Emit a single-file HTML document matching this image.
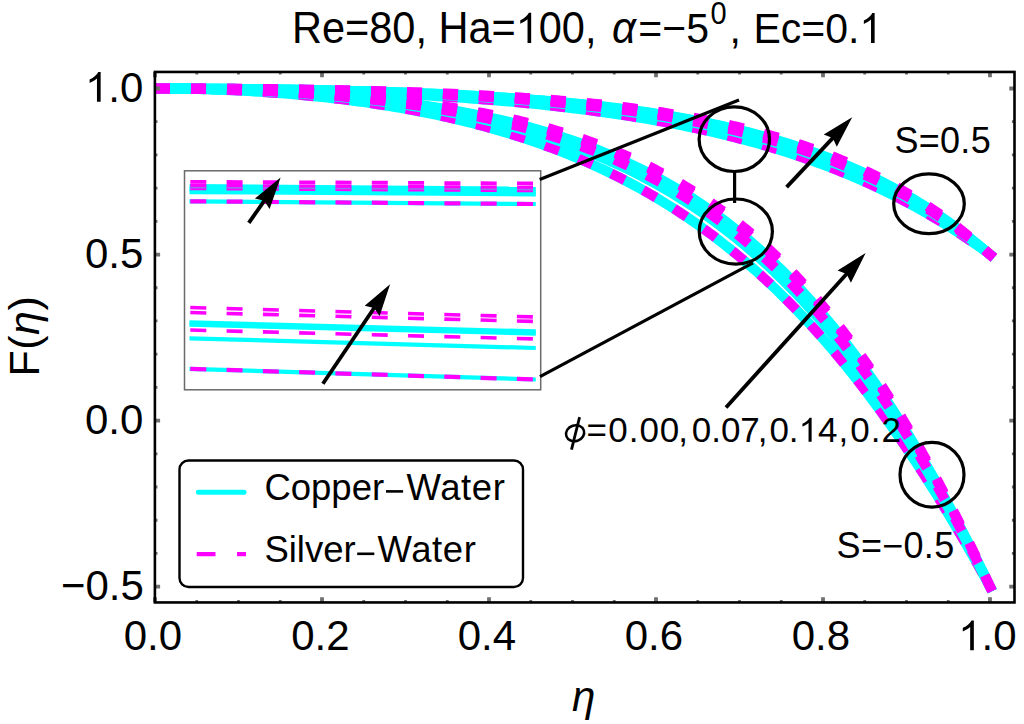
<!DOCTYPE html>
<html><head><meta charset="utf-8"><style>html,body{margin:0;padding:0;background:#fff;}svg{display:block;}</style></head>
<body><svg width="1024" height="724" viewBox="0 0 1024 724">
<rect width="1024" height="724" fill="#fff"/>
<defs><clipPath id="pc"><rect x="155" y="72" width="859" height="530"/></clipPath></defs><g clip-path="url(#pc)" fill="none" stroke-linejoin="round"><polyline points="155.00,88.50 160.22,88.50 165.44,88.51 170.66,88.52 175.88,88.54 181.09,88.56 186.31,88.58 191.53,88.61 196.75,88.65 201.97,88.69 207.19,88.73 212.41,88.78 217.62,88.83 222.84,88.89 228.06,88.95 233.28,89.02 238.50,89.09 243.72,89.17 248.94,89.25 254.16,89.34 259.38,89.43 264.59,89.53 269.81,89.63 275.03,89.74 280.25,89.86 285.47,89.97 290.69,90.10 295.91,90.23 301.12,90.36 306.34,90.50 311.56,90.65 316.78,90.80 322.00,90.96 327.22,91.13 332.44,91.30 337.66,91.47 342.88,91.65 348.09,91.84 353.31,92.04 358.53,92.24 363.75,92.45 368.97,92.67 374.19,92.89 379.41,93.12 384.62,93.36 389.84,93.60 395.06,93.85 400.28,94.11 405.50,94.38 410.72,94.65 415.94,94.94 421.16,95.23 426.38,95.53 431.59,95.84 436.81,96.16 442.03,96.48 447.25,96.82 452.47,97.16 457.69,97.52 462.91,97.88 468.12,98.25 473.34,98.64 478.56,99.03 483.78,99.43 489.00,99.85 494.22,100.28 499.44,100.71 504.66,101.16 509.88,101.62 515.09,102.10 520.31,102.58 525.53,103.08 530.75,103.59 535.97,104.11 541.19,104.65 546.41,105.20 551.62,105.76 556.84,106.34 562.06,106.93 567.28,107.54 572.50,108.17 577.72,108.80 582.94,109.46 588.16,110.13 593.38,110.82 598.59,111.52 603.81,112.24 609.03,112.98 614.25,113.74 619.47,114.52 624.69,115.31 629.91,116.13 635.12,116.96 640.34,117.81 645.56,118.69 650.78,119.59 656.00,120.50 661.22,121.44 666.44,122.41 671.66,123.39 676.88,124.40 682.09,125.44 687.31,126.49 692.53,127.58 697.75,128.69 702.97,129.82 708.19,130.98 713.41,132.17 718.62,133.39 723.84,134.64 729.06,135.91 734.28,137.22 739.50,138.56 744.72,139.92 749.94,141.32 755.16,142.76 760.38,144.22 765.59,145.72 770.81,147.26 776.03,148.83 781.25,150.43 786.47,152.07 791.69,153.75 796.91,155.47 802.12,157.23 807.34,159.03 812.56,160.87 817.78,162.75 823.00,164.68 828.22,166.64 833.44,168.66 838.66,170.71 843.88,172.82 849.09,174.97 854.31,177.17 859.53,179.42 864.75,181.71 869.97,184.06 875.19,186.46 880.41,188.92 885.62,191.42 890.84,193.99 896.06,196.61 901.28,199.28 906.50,202.01 911.72,204.81 916.94,207.66 922.16,210.57 927.38,213.55 932.59,216.59 937.81,219.70 943.03,222.87 948.25,226.10 953.47,229.41 958.69,232.79 963.91,236.23 969.13,239.75 974.34,243.34 979.56,247.00 984.78,250.74 990.00,254.55" stroke="#00FFFF" stroke-width="10" stroke-linecap="square"/><polyline points="155.00,88.50 160.22,88.50 165.44,88.51 170.66,88.52 175.88,88.54 181.09,88.56 186.31,88.58 191.53,88.61 196.75,88.65 201.97,88.69 207.19,88.73 212.41,88.78 217.62,88.83 222.84,88.89 228.06,88.95 233.28,89.02 238.50,89.09 243.72,89.17 248.94,89.25 254.16,89.34 259.38,89.43 264.59,89.53 269.81,89.63 275.03,89.74 280.25,89.86 285.47,89.97 290.69,90.10 295.91,90.23 301.12,90.36 306.34,90.50 311.56,90.65 316.78,90.80 322.00,90.96 327.22,91.13 332.44,91.30 337.66,91.47 342.88,91.65 348.09,91.84 353.31,92.04 358.53,92.24 363.75,92.45 368.97,92.67 374.19,92.89 379.41,93.12 384.62,93.36 389.84,93.60 395.06,93.85 400.28,94.11 405.50,94.38 410.72,94.65 415.94,94.94 421.16,95.23 426.38,95.53 431.59,95.84 436.81,96.16 442.03,96.48 447.25,96.82 452.47,97.16 457.69,97.52 462.91,97.88 468.12,98.25 473.34,98.64 478.56,99.03 483.78,99.43 489.00,99.85 494.22,100.28 499.44,100.71 504.66,101.16 509.88,101.62 515.09,102.10 520.31,102.58 525.53,103.08 530.75,103.59 535.97,104.11 541.19,104.65 546.41,105.20 551.62,105.76 556.84,106.34 562.06,106.93 567.28,107.54 572.50,108.17 577.72,108.80 582.94,109.46 588.16,110.13 593.38,110.82 598.59,111.52 603.81,112.24 609.03,112.98 614.25,113.74 619.47,114.52 624.69,115.31 629.91,116.13 635.12,116.96 640.34,117.81 645.56,118.69 650.78,119.59 656.00,120.50 661.22,121.44 666.44,122.41 671.66,123.39 676.88,124.40 682.09,125.44 687.31,126.49 692.53,127.58 697.75,128.69 702.97,129.82 708.19,130.98 713.41,132.17 718.62,133.39 723.84,134.64 729.06,135.91 734.28,137.22 739.50,138.56 744.72,139.92 749.94,141.32 755.16,142.76 760.38,144.22 765.59,145.72 770.81,147.26 776.03,148.83 781.25,150.43 786.47,152.07 791.69,153.75 796.91,155.47 802.12,157.23 807.34,159.03 812.56,160.87 817.78,162.75 823.00,164.68 828.22,166.64 833.44,168.66 838.66,170.71 843.88,172.82 849.09,174.97 854.31,177.17 859.53,179.42 864.75,181.71 869.97,184.06 875.19,186.46 880.41,188.92 885.62,191.42 890.84,193.99 896.06,196.61 901.28,199.28 906.50,202.01 911.72,204.81 916.94,207.66 922.16,210.57 927.38,213.55 932.59,216.59 937.81,219.70 943.03,222.87 948.25,226.10 953.47,229.41 958.69,232.79 963.91,236.23 969.13,239.75 974.34,243.34 979.56,247.00 984.78,250.74 990.00,254.55" stroke="#FF00FF" stroke-width="10" stroke-linecap="square" stroke-dasharray="5 31" stroke-dashoffset="-5"/><polyline points="155.00,88.50 160.22,88.50 165.44,88.51 170.66,88.52 175.88,88.53 181.09,88.54 186.31,88.56 191.53,88.59 196.75,88.61 201.97,88.64 207.19,88.68 212.41,88.71 217.62,88.75 222.84,88.80 228.06,88.85 233.28,88.90 238.50,88.96 243.72,89.02 248.94,89.08 254.16,89.15 259.38,89.22 264.59,89.29 269.81,89.37 275.03,89.46 280.25,89.55 285.47,89.64 290.69,89.74 295.91,89.84 301.12,89.94 306.34,90.05 311.56,90.17 316.78,90.29 322.00,90.41 327.22,90.54 332.44,90.68 337.66,90.81 342.88,90.96 348.09,91.11 353.31,91.26 358.53,91.43 363.75,91.59 368.97,91.76 374.19,91.94 379.41,92.13 384.62,92.32 389.84,92.51 395.06,92.72 400.28,92.93 405.50,93.14 410.72,93.37 415.94,93.60 421.16,93.83 426.38,94.08 431.59,94.33 436.81,94.59 442.03,94.86 447.25,95.14 452.47,95.42 457.69,95.72 462.91,96.02 468.12,96.33 473.34,96.65 478.56,96.98 483.78,97.32 489.00,97.67 494.22,98.03 499.44,98.40 504.66,98.78 509.88,99.17 515.09,99.57 520.31,99.98 525.53,100.41 530.75,100.85 535.97,101.30 541.19,101.76 546.41,102.24 551.62,102.73 556.84,103.23 562.06,103.75 567.28,104.28 572.50,104.83 577.72,105.39 582.94,105.97 588.16,106.56 593.38,107.17 598.59,107.80 603.81,108.44 609.03,109.10 614.25,109.78 619.47,110.48 624.69,111.20 629.91,111.94 635.12,112.70 640.34,113.47 645.56,114.27 650.78,115.09 656.00,115.94 661.22,116.80 666.44,117.69 671.66,118.61 676.88,119.55 682.09,120.51 687.31,121.50 692.53,122.52 697.75,123.56 702.97,124.63 708.19,125.73 713.41,126.86 718.62,128.02 723.84,129.21 729.06,130.43 734.28,131.69 739.50,132.97 744.72,134.30 749.94,135.65 755.16,137.05 760.38,138.48 765.59,139.94 770.81,141.45 776.03,142.99 781.25,144.58 786.47,146.20 791.69,147.87 796.91,149.58 802.12,151.34 807.34,153.14 812.56,154.99 817.78,156.89 823.00,158.83 828.22,160.82 833.44,162.87 838.66,164.97 843.88,167.12 849.09,169.32 854.31,171.59 859.53,173.91 864.75,176.28 869.97,178.72 875.19,181.22 880.41,183.78 885.62,186.40 890.84,189.09 896.06,191.85 901.28,194.67 906.50,197.57 911.72,200.53 916.94,203.57 922.16,206.68 927.38,209.87 932.59,213.13 937.81,216.47 943.03,219.89 948.25,223.40 953.47,226.98 958.69,230.65 963.91,234.41 969.13,238.26 974.34,242.19 979.56,246.22 984.78,250.34 990.00,254.55" stroke="#00FFFF" stroke-width="10" stroke-linecap="square"/><polyline points="155.00,88.50 160.22,88.50 165.44,88.51 170.66,88.51 175.88,88.52 181.09,88.54 186.31,88.56 191.53,88.58 196.75,88.60 201.97,88.63 207.19,88.66 212.41,88.69 217.62,88.72 222.84,88.76 228.06,88.81 233.28,88.85 238.50,88.90 243.72,88.95 248.94,89.01 254.16,89.07 259.38,89.13 264.59,89.20 269.81,89.27 275.03,89.35 280.25,89.42 285.47,89.51 290.69,89.59 295.91,89.68 301.12,89.77 306.34,89.87 311.56,89.97 316.78,90.08 322.00,90.19 327.22,90.31 332.44,90.43 337.66,90.55 342.88,90.68 348.09,90.81 353.31,90.95 358.53,91.10 363.75,91.25 368.97,91.40 374.19,91.56 379.41,91.73 384.62,91.90 389.84,92.07 395.06,92.26 400.28,92.45 405.50,92.64 410.72,92.84 415.94,93.05 421.16,93.27 426.38,93.49 431.59,93.72 436.81,93.96 442.03,94.20 447.25,94.45 452.47,94.71 457.69,94.98 462.91,95.26 468.12,95.54 473.34,95.83 478.56,96.14 483.78,96.45 489.00,96.77 494.22,97.10 499.44,97.44 504.66,97.79 509.88,98.15 515.09,98.53 520.31,98.91 525.53,99.30 530.75,99.71 535.97,100.13 541.19,100.56 546.41,101.01 551.62,101.46 556.84,101.93 562.06,102.42 567.28,102.92 572.50,103.43 577.72,103.96 582.94,104.50 588.16,105.06 593.38,105.63 598.59,106.23 603.81,106.84 609.03,107.46 614.25,108.11 619.47,108.77 624.69,109.45 629.91,110.16 635.12,110.88 640.34,111.62 645.56,112.39 650.78,113.17 656.00,113.98 661.22,114.81 666.44,115.67 671.66,116.55 676.88,117.45 682.09,118.39 687.31,119.34 692.53,120.33 697.75,121.34 702.97,122.38 708.19,123.45 713.41,124.55 718.62,125.68 723.84,126.84 729.06,128.04 734.28,129.26 739.50,130.53 744.72,131.82 749.94,133.16 755.16,134.53 760.38,135.94 765.59,137.39 770.81,138.87 776.03,140.40 781.25,141.98 786.47,143.59 791.69,145.25 796.91,146.95 802.12,148.70 807.34,150.50 812.56,152.35 817.78,154.25 823.00,156.20 828.22,158.20 833.44,160.26 838.66,162.37 843.88,164.54 849.09,166.76 854.31,169.05 859.53,171.40 864.75,173.81 869.97,176.28 875.19,178.82 880.41,181.43 885.62,184.10 890.84,186.84 896.06,189.66 901.28,192.55 906.50,195.51 911.72,198.55 916.94,201.67 922.16,204.87 927.38,208.15 932.59,211.52 937.81,214.97 943.03,218.50 948.25,222.13 953.47,225.85 958.69,229.65 963.91,233.56 969.13,237.56 974.34,241.65 979.56,245.85 984.78,250.15 990.00,254.55" stroke="#00FFFF" stroke-width="10" stroke-linecap="square"/><polyline points="155.00,88.50 160.22,88.50 165.44,88.51 170.66,88.51 175.88,88.52 181.09,88.54 186.31,88.55 191.53,88.57 196.75,88.60 201.97,88.62 207.19,88.65 212.41,88.68 217.62,88.72 222.84,88.76 228.06,88.80 233.28,88.84 238.50,88.89 243.72,88.94 248.94,89.00 254.16,89.06 259.38,89.12 264.59,89.18 269.81,89.25 275.03,89.32 280.25,89.40 285.47,89.48 290.69,89.56 295.91,89.65 301.12,89.74 306.34,89.84 311.56,89.94 316.78,90.04 322.00,90.15 327.22,90.26 332.44,90.38 337.66,90.50 342.88,90.63 348.09,90.76 353.31,90.90 358.53,91.04 363.75,91.18 368.97,91.33 374.19,91.49 379.41,91.65 384.62,91.82 389.84,91.99 395.06,92.17 400.28,92.36 405.50,92.55 410.72,92.75 415.94,92.95 421.16,93.16 426.38,93.38 431.59,93.61 436.81,93.84 442.03,94.08 447.25,94.32 452.47,94.58 457.69,94.84 462.91,95.11 468.12,95.39 473.34,95.68 478.56,95.98 483.78,96.29 489.00,96.60 494.22,96.93 499.44,97.26 504.66,97.61 509.88,97.96 515.09,98.33 520.31,98.71 525.53,99.10 530.75,99.50 535.97,99.91 541.19,100.34 546.41,100.77 551.62,101.23 556.84,101.69 562.06,102.17 567.28,102.66 572.50,103.17 577.72,103.69 582.94,104.23 588.16,104.78 593.38,105.35 598.59,105.93 603.81,106.53 609.03,107.16 614.25,107.79 619.47,108.45 624.69,109.13 629.91,109.82 635.12,110.54 640.34,111.27 645.56,112.03 650.78,112.81 656.00,113.61 661.22,114.44 666.44,115.29 671.66,116.16 676.88,117.06 682.09,117.98 687.31,118.93 692.53,119.91 697.75,120.92 702.97,121.95 708.19,123.02 713.41,124.11 718.62,125.23 723.84,126.39 729.06,127.58 734.28,128.80 739.50,130.06 744.72,131.35 749.94,132.68 755.16,134.05 760.38,135.46 765.59,136.90 770.81,138.38 776.03,139.91 781.25,141.48 786.47,143.09 791.69,144.75 796.91,146.45 802.12,148.20 807.34,150.00 812.56,151.85 817.78,153.75 823.00,155.70 828.22,157.70 833.44,159.76 838.66,161.87 843.88,164.04 849.09,166.27 854.31,168.56 859.53,170.92 864.75,173.33 869.97,175.81 875.19,178.36 880.41,180.97 885.62,183.66 890.84,186.41 896.06,189.24 901.28,192.14 906.50,195.12 911.72,198.17 916.94,201.31 922.16,204.52 927.38,207.82 932.59,211.21 937.81,214.68 943.03,218.24 948.25,221.88 953.47,225.63 958.69,229.46 963.91,233.39 969.13,237.42 974.34,241.55 979.56,245.78 984.78,250.11 990.00,254.55" stroke="#00FFFF" stroke-width="10" stroke-linecap="square"/><polyline points="155.00,88.50 160.22,88.50 165.44,88.51 170.66,88.51 175.88,88.53 181.09,88.54 186.31,88.56 191.53,88.58 196.75,88.60 201.97,88.63 207.19,88.66 212.41,88.70 217.62,88.74 222.84,88.78 228.06,88.82 233.28,88.87 238.50,88.92 243.72,88.98 248.94,89.04 254.16,89.10 259.38,89.16 264.59,89.23 269.81,89.31 275.03,89.39 280.25,89.47 285.47,89.55 290.69,89.64 295.91,89.74 301.12,89.83 306.34,89.94 311.56,90.04 316.78,90.15 322.00,90.27 327.22,90.39 332.44,90.52 337.66,90.65 342.88,90.78 348.09,90.92 353.31,91.06 358.53,91.21 363.75,91.37 368.97,91.53 374.19,91.70 379.41,91.87 384.62,92.05 389.84,92.23 395.06,92.42 400.28,92.62 405.50,92.82 410.72,93.03 415.94,93.25 421.16,93.47 426.38,93.70 431.59,93.94 436.81,94.18 442.03,94.44 447.25,94.70 452.47,94.97 457.69,95.24 462.91,95.53 468.12,95.82 473.34,96.13 478.56,96.44 483.78,96.76 489.00,97.09 494.22,97.43 499.44,97.78 504.66,98.15 509.88,98.52 515.09,98.90 520.31,99.30 525.53,99.70 530.75,100.12 535.97,100.55 541.19,100.99 546.41,101.45 551.62,101.92 556.84,102.40 562.06,102.90 567.28,103.41 572.50,103.93 577.72,104.47 582.94,105.03 588.16,105.60 593.38,106.19 598.59,106.79 603.81,107.41 609.03,108.05 614.25,108.71 619.47,109.39 624.69,110.08 629.91,110.80 635.12,111.53 640.34,112.29 645.56,113.07 650.78,113.87 656.00,114.69 661.22,115.53 666.44,116.40 671.66,117.29 676.88,118.21 682.09,119.15 687.31,120.12 692.53,121.12 697.75,122.14 702.97,123.19 708.19,124.28 713.41,125.39 718.62,126.53 723.84,127.70 729.06,128.90 734.28,130.14 739.50,131.41 744.72,132.72 749.94,134.06 755.16,135.44 760.38,136.86 765.59,138.31 770.81,139.81 776.03,141.34 781.25,142.92 786.47,144.54 791.69,146.20 796.91,147.91 802.12,149.66 807.34,151.46 812.56,153.31 817.78,155.21 823.00,157.16 828.22,159.16 833.44,161.21 838.66,163.32 843.88,165.48 849.09,167.70 854.31,169.98 859.53,172.31 864.75,174.71 869.97,177.17 875.19,179.70 880.41,182.29 885.62,184.94 890.84,187.67 896.06,190.46 901.28,193.33 906.50,196.26 911.72,199.28 916.94,202.37 922.16,205.53 927.38,208.78 932.59,212.11 937.81,215.52 943.03,219.01 948.25,222.59 953.47,226.26 958.69,230.02 963.91,233.87 969.13,237.81 974.34,241.85 979.56,245.98 984.78,250.22 990.00,254.55" stroke="#FF00FF" stroke-width="10" stroke-linecap="square" stroke-dasharray="5 31" stroke-dashoffset="-5"/><polyline points="155.00,88.50 160.22,88.50 165.44,88.51 170.66,88.51 175.88,88.52 181.09,88.53 186.31,88.55 191.53,88.57 196.75,88.59 201.97,88.61 207.19,88.64 212.41,88.67 217.62,88.70 222.84,88.73 228.06,88.77 233.28,88.81 238.50,88.85 243.72,88.90 248.94,88.95 254.16,89.00 259.38,89.06 264.59,89.12 269.81,89.18 275.03,89.24 280.25,89.31 285.47,89.39 290.69,89.46 295.91,89.54 301.12,89.62 306.34,89.71 311.56,89.80 316.78,89.90 322.00,89.99 327.22,90.10 332.44,90.20 337.66,90.31 342.88,90.43 348.09,90.55 353.31,90.67 358.53,90.80 363.75,90.94 368.97,91.07 374.19,91.22 379.41,91.37 384.62,91.52 389.84,91.68 395.06,91.84 400.28,92.01 405.50,92.19 410.72,92.37 415.94,92.56 421.16,92.76 426.38,92.96 431.59,93.17 436.81,93.38 442.03,93.60 447.25,93.83 452.47,94.07 457.69,94.31 462.91,94.56 468.12,94.82 473.34,95.09 478.56,95.37 483.78,95.66 489.00,95.95 494.22,96.26 499.44,96.57 504.66,96.89 509.88,97.23 515.09,97.57 520.31,97.93 525.53,98.29 530.75,98.67 535.97,99.06 541.19,99.46 546.41,99.87 551.62,100.30 556.84,100.74 562.06,101.19 567.28,101.66 572.50,102.14 577.72,102.63 582.94,103.15 588.16,103.67 593.38,104.21 598.59,104.77 603.81,105.35 609.03,105.94 614.25,106.55 619.47,107.18 624.69,107.83 629.91,108.50 635.12,109.19 640.34,109.90 645.56,110.63 650.78,111.38 656.00,112.15 661.22,112.95 666.44,113.77 671.66,114.62 676.88,115.49 682.09,116.39 687.31,117.31 692.53,118.26 697.75,119.24 702.97,120.25 708.19,121.29 713.41,122.36 718.62,123.46 723.84,124.60 729.06,125.76 734.28,126.96 739.50,128.20 744.72,129.47 749.94,130.78 755.16,132.13 760.38,133.52 765.59,134.94 770.81,136.41 776.03,137.93 781.25,139.48 786.47,141.08 791.69,142.73 796.91,144.42 802.12,146.17 807.34,147.96 812.56,149.81 817.78,151.70 823.00,153.65 828.22,155.66 833.44,157.73 838.66,159.85 843.88,162.03 849.09,164.27 854.31,166.58 859.53,168.95 864.75,171.39 869.97,173.90 875.19,176.47 880.41,179.12 885.62,181.84 890.84,184.64 896.06,187.51 901.28,190.46 906.50,193.49 911.72,196.60 916.94,199.80 922.16,203.09 927.38,206.46 932.59,209.92 937.81,213.48 943.03,217.13 948.25,220.87 953.47,224.71 958.69,228.66 963.91,232.70 969.13,236.86 974.34,241.11 979.56,245.48 984.78,249.96 990.00,254.55" stroke="#FF00FF" stroke-width="10" stroke-linecap="square" stroke-dasharray="5 31" stroke-dashoffset="-5"/><polyline points="155.00,88.50 160.22,88.50 165.44,88.51 170.66,88.51 175.88,88.52 181.09,88.53 186.31,88.55 191.53,88.56 196.75,88.58 201.97,88.60 207.19,88.63 212.41,88.66 217.62,88.69 222.84,88.72 228.06,88.76 233.28,88.79 238.50,88.84 243.72,88.88 248.94,88.93 254.16,88.98 259.38,89.03 264.59,89.09 269.81,89.15 275.03,89.21 280.25,89.27 285.47,89.34 290.69,89.42 295.91,89.49 301.12,89.57 306.34,89.65 311.56,89.74 316.78,89.83 322.00,89.93 327.22,90.02 332.44,90.13 337.66,90.23 342.88,90.34 348.09,90.46 353.31,90.58 358.53,90.70 363.75,90.83 368.97,90.96 374.19,91.10 379.41,91.24 384.62,91.39 389.84,91.54 395.06,91.70 400.28,91.86 405.50,92.03 410.72,92.21 415.94,92.39 421.16,92.58 426.38,92.77 431.59,92.97 436.81,93.18 442.03,93.39 447.25,93.61 452.47,93.84 457.69,94.08 462.91,94.32 468.12,94.57 473.34,94.83 478.56,95.10 483.78,95.38 489.00,95.66 494.22,95.96 499.44,96.26 504.66,96.57 509.88,96.90 515.09,97.23 520.31,97.58 525.53,97.93 530.75,98.30 535.97,98.68 541.19,99.07 546.41,99.47 551.62,99.88 556.84,100.31 562.06,100.75 567.28,101.21 572.50,101.68 577.72,102.16 582.94,102.66 588.16,103.17 593.38,103.71 598.59,104.25 603.81,104.82 609.03,105.40 614.25,105.99 619.47,106.61 624.69,107.25 629.91,107.90 635.12,108.58 640.34,109.27 645.56,109.99 650.78,110.73 656.00,111.49 661.22,112.28 666.44,113.09 671.66,113.92 676.88,114.78 682.09,115.67 687.31,116.58 692.53,117.52 697.75,118.48 702.97,119.48 708.19,120.51 713.41,121.57 718.62,122.66 723.84,123.78 729.06,124.93 734.28,126.13 739.50,127.35 744.72,128.61 749.94,129.91 755.16,131.25 760.38,132.63 765.59,134.05 770.81,135.51 776.03,137.02 781.25,138.57 786.47,140.16 791.69,141.81 796.91,143.50 802.12,145.24 807.34,147.03 812.56,148.87 817.78,150.77 823.00,152.72 828.22,154.73 833.44,156.79 838.66,158.92 843.88,161.10 849.09,163.35 854.31,165.67 859.53,168.05 864.75,170.50 869.97,173.02 875.19,175.60 880.41,178.27 885.62,181.00 890.84,183.82 896.06,186.71 901.28,189.68 906.50,192.74 911.72,195.88 916.94,199.11 922.16,202.42 927.38,205.83 932.59,209.33 937.81,212.92 943.03,216.61 948.25,220.40 953.47,224.29 958.69,228.29 963.91,232.39 969.13,236.59 974.34,240.91 979.56,245.34 984.78,249.89 990.00,254.55" stroke="#FF00FF" stroke-width="10" stroke-linecap="square" stroke-dasharray="5 31" stroke-dashoffset="-5"/><polyline points="155.00,88.50 160.22,88.51 165.44,88.53 170.66,88.57 175.88,88.63 181.09,88.70 186.31,88.79 191.53,88.89 196.75,89.01 201.97,89.14 207.19,89.30 212.41,89.46 217.62,89.65 222.84,89.85 228.06,90.07 233.28,90.30 238.50,90.55 243.72,90.82 248.94,91.11 254.16,91.41 259.38,91.73 264.59,92.07 269.81,92.42 275.03,92.80 280.25,93.19 285.47,93.60 290.69,94.03 295.91,94.48 301.12,94.94 306.34,95.43 311.56,95.94 316.78,96.47 322.00,97.01 327.22,97.58 332.44,98.17 337.66,98.78 342.88,99.41 348.09,100.07 353.31,100.74 358.53,101.44 363.75,102.16 368.97,102.91 374.19,103.68 379.41,104.47 384.62,105.29 389.84,106.14 395.06,107.01 400.28,107.90 405.50,108.82 410.72,109.77 415.94,110.75 421.16,111.76 426.38,112.79 431.59,113.85 436.81,114.95 442.03,116.07 447.25,117.23 452.47,118.41 457.69,119.63 462.91,120.88 468.12,122.17 473.34,123.49 478.56,124.84 483.78,126.23 489.00,127.66 494.22,129.13 499.44,130.63 504.66,132.17 509.88,133.75 515.09,135.37 520.31,137.03 525.53,138.73 530.75,140.47 535.97,142.26 541.19,144.09 546.41,145.97 551.62,147.89 556.84,149.87 562.06,151.88 567.28,153.95 572.50,156.07 577.72,158.24 582.94,160.46 588.16,162.73 593.38,165.06 598.59,167.44 603.81,169.88 609.03,172.38 614.25,174.93 619.47,177.54 624.69,180.22 629.91,182.95 635.12,185.75 640.34,188.61 645.56,191.54 650.78,194.53 656.00,197.59 661.22,200.72 666.44,203.92 671.66,207.19 676.88,210.53 682.09,213.95 687.31,217.44 692.53,221.00 697.75,224.65 702.97,228.37 708.19,232.17 713.41,236.06 718.62,240.03 723.84,244.08 729.06,248.22 734.28,252.44 739.50,256.75 744.72,261.15 749.94,265.64 755.16,270.22 760.38,274.90 765.59,279.67 770.81,284.53 776.03,289.50 781.25,294.56 786.47,299.72 791.69,304.98 796.91,310.34 802.12,315.80 807.34,321.37 812.56,327.04 817.78,332.82 823.00,338.71 828.22,344.70 833.44,350.81 838.66,357.02 843.88,363.34 849.09,369.78 854.31,376.33 859.53,382.99 864.75,389.76 869.97,396.65 875.19,403.65 880.41,410.77 885.62,418.00 890.84,425.35 896.06,432.82 901.28,440.40 906.50,448.10 911.72,455.91 916.94,463.84 922.16,471.89 927.38,480.05 932.59,488.33 937.81,496.72 943.03,505.22 948.25,513.83 953.47,522.56 958.69,531.40 963.91,540.34 969.13,549.40 974.34,558.56 979.56,567.82 984.78,577.18 990.00,586.65" stroke="#00FFFF" stroke-width="10" stroke-linecap="square"/><polyline points="155.00,88.50 160.22,88.51 165.44,88.53 170.66,88.57 175.88,88.63 181.09,88.70 186.31,88.79 191.53,88.89 196.75,89.01 201.97,89.14 207.19,89.30 212.41,89.46 217.62,89.65 222.84,89.85 228.06,90.07 233.28,90.30 238.50,90.55 243.72,90.82 248.94,91.11 254.16,91.41 259.38,91.73 264.59,92.07 269.81,92.42 275.03,92.80 280.25,93.19 285.47,93.60 290.69,94.03 295.91,94.48 301.12,94.94 306.34,95.43 311.56,95.94 316.78,96.47 322.00,97.01 327.22,97.58 332.44,98.17 337.66,98.78 342.88,99.41 348.09,100.07 353.31,100.74 358.53,101.44 363.75,102.16 368.97,102.91 374.19,103.68 379.41,104.47 384.62,105.29 389.84,106.14 395.06,107.01 400.28,107.90 405.50,108.82 410.72,109.77 415.94,110.75 421.16,111.76 426.38,112.79 431.59,113.85 436.81,114.95 442.03,116.07 447.25,117.23 452.47,118.41 457.69,119.63 462.91,120.88 468.12,122.17 473.34,123.49 478.56,124.84 483.78,126.23 489.00,127.66 494.22,129.13 499.44,130.63 504.66,132.17 509.88,133.75 515.09,135.37 520.31,137.03 525.53,138.73 530.75,140.47 535.97,142.26 541.19,144.09 546.41,145.97 551.62,147.89 556.84,149.87 562.06,151.88 567.28,153.95 572.50,156.07 577.72,158.24 582.94,160.46 588.16,162.73 593.38,165.06 598.59,167.44 603.81,169.88 609.03,172.38 614.25,174.93 619.47,177.54 624.69,180.22 629.91,182.95 635.12,185.75 640.34,188.61 645.56,191.54 650.78,194.53 656.00,197.59 661.22,200.72 666.44,203.92 671.66,207.19 676.88,210.53 682.09,213.95 687.31,217.44 692.53,221.00 697.75,224.65 702.97,228.37 708.19,232.17 713.41,236.06 718.62,240.03 723.84,244.08 729.06,248.22 734.28,252.44 739.50,256.75 744.72,261.15 749.94,265.64 755.16,270.22 760.38,274.90 765.59,279.67 770.81,284.53 776.03,289.50 781.25,294.56 786.47,299.72 791.69,304.98 796.91,310.34 802.12,315.80 807.34,321.37 812.56,327.04 817.78,332.82 823.00,338.71 828.22,344.70 833.44,350.81 838.66,357.02 843.88,363.34 849.09,369.78 854.31,376.33 859.53,382.99 864.75,389.76 869.97,396.65 875.19,403.65 880.41,410.77 885.62,418.00 890.84,425.35 896.06,432.82 901.28,440.40 906.50,448.10 911.72,455.91 916.94,463.84 922.16,471.89 927.38,480.05 932.59,488.33 937.81,496.72 943.03,505.22 948.25,513.83 953.47,522.56 958.69,531.40 963.91,540.34 969.13,549.40 974.34,558.56 979.56,567.82 984.78,577.18 990.00,586.65" stroke="#FF00FF" stroke-width="10" stroke-linecap="square" stroke-dasharray="5 31" stroke-dashoffset="-5"/><polyline points="155.00,88.50 160.22,88.51 165.44,88.52 170.66,88.56 175.88,88.60 181.09,88.66 186.31,88.72 191.53,88.80 196.75,88.90 201.97,89.00 207.19,89.12 212.41,89.26 217.62,89.40 222.84,89.56 228.06,89.73 233.28,89.91 238.50,90.11 243.72,90.32 248.94,90.55 254.16,90.79 259.38,91.04 264.59,91.31 269.81,91.59 275.03,91.89 280.25,92.20 285.47,92.53 290.69,92.87 295.91,93.22 301.12,93.60 306.34,93.99 311.56,94.39 316.78,94.82 322.00,95.26 327.22,95.71 332.44,96.19 337.66,96.68 342.88,97.19 348.09,97.72 353.31,98.27 358.53,98.84 363.75,99.42 368.97,100.03 374.19,100.66 379.41,101.31 384.62,101.98 389.84,102.68 395.06,103.39 400.28,104.13 405.50,104.90 410.72,105.68 415.94,106.50 421.16,107.33 426.38,108.20 431.59,109.09 436.81,110.00 442.03,110.95 447.25,111.92 452.47,112.92 457.69,113.95 462.91,115.01 468.12,116.11 473.34,117.23 478.56,118.39 483.78,119.58 489.00,120.81 494.22,122.07 499.44,123.36 504.66,124.69 509.88,126.06 515.09,127.47 520.31,128.92 525.53,130.41 530.75,131.94 535.97,133.51 541.19,135.13 546.41,136.79 551.62,138.49 556.84,140.24 562.06,142.04 567.28,143.89 572.50,145.79 577.72,147.74 582.94,149.74 588.16,151.79 593.38,153.90 598.59,156.06 603.81,158.29 609.03,160.57 614.25,162.91 619.47,165.31 624.69,167.77 629.91,170.30 635.12,172.89 640.34,175.55 645.56,178.28 650.78,181.07 656.00,183.94 661.22,186.89 666.44,189.90 671.66,192.99 676.88,196.16 682.09,199.41 687.31,202.74 692.53,206.15 697.75,209.65 702.97,213.23 708.19,216.90 713.41,220.65 718.62,224.50 723.84,228.44 729.06,232.48 734.28,236.61 739.50,240.84 744.72,245.17 749.94,249.60 755.16,254.13 760.38,258.77 765.59,263.51 770.81,268.37 776.03,273.33 781.25,278.40 786.47,283.59 791.69,288.89 796.91,294.31 802.12,299.85 807.34,305.51 812.56,311.29 817.78,317.19 823.00,323.22 828.22,329.37 833.44,335.65 838.66,342.06 843.88,348.60 849.09,355.27 854.31,362.07 859.53,369.01 864.75,376.08 869.97,383.28 875.19,390.62 880.41,398.10 885.62,405.72 890.84,413.47 896.06,421.37 901.28,429.40 906.50,437.57 911.72,445.88 916.94,454.33 922.16,462.91 927.38,471.64 932.59,480.50 937.81,489.50 943.03,498.63 948.25,507.90 953.47,517.30 958.69,526.83 963.91,536.49 969.13,546.27 974.34,556.19 979.56,566.22 984.78,576.38 990.00,586.65" stroke="#00FFFF" stroke-width="10" stroke-linecap="square"/><polyline points="155.00,88.50 160.22,88.51 165.44,88.52 170.66,88.55 175.88,88.59 181.09,88.64 186.31,88.70 191.53,88.77 196.75,88.85 201.97,88.95 207.19,89.05 212.41,89.17 217.62,89.30 222.84,89.44 228.06,89.59 233.28,89.76 238.50,89.93 243.72,90.12 248.94,90.32 254.16,90.53 259.38,90.76 264.59,91.00 269.81,91.25 275.03,91.51 280.25,91.79 285.47,92.08 290.69,92.39 295.91,92.71 301.12,93.04 306.34,93.39 311.56,93.76 316.78,94.14 322.00,94.53 327.22,94.94 332.44,95.37 337.66,95.81 342.88,96.27 348.09,96.75 353.31,97.24 358.53,97.76 363.75,98.29 368.97,98.84 374.19,99.41 379.41,100.00 384.62,100.61 389.84,101.24 395.06,101.89 400.28,102.56 405.50,103.26 410.72,103.97 415.94,104.71 421.16,105.48 426.38,106.27 431.59,107.08 436.81,107.92 442.03,108.79 447.25,109.69 452.47,110.61 457.69,111.56 462.91,112.54 468.12,113.55 473.34,114.59 478.56,115.66 483.78,116.76 489.00,117.90 494.22,119.07 499.44,120.27 504.66,121.51 509.88,122.79 515.09,124.10 520.31,125.46 525.53,126.85 530.75,128.28 535.97,129.76 541.19,131.28 546.41,132.84 551.62,134.44 556.84,136.09 562.06,137.79 567.28,139.54 572.50,141.34 577.72,143.18 582.94,145.08 588.16,147.04 593.38,149.04 598.59,151.11 603.81,153.23 609.03,155.40 614.25,157.64 619.47,159.94 624.69,162.31 629.91,164.74 635.12,167.23 640.34,169.79 645.56,172.42 650.78,175.13 656.00,177.90 661.22,180.75 666.44,183.68 671.66,186.68 676.88,189.76 682.09,192.93 687.31,196.17 692.53,199.51 697.75,202.92 702.97,206.43 708.19,210.03 713.41,213.72 718.62,217.50 723.84,221.38 729.06,225.36 734.28,229.44 739.50,233.62 744.72,237.91 749.94,242.30 755.16,246.80 760.38,251.41 765.59,256.13 770.81,260.96 776.03,265.91 781.25,270.98 786.47,276.17 791.69,281.48 796.91,286.92 802.12,292.48 807.34,298.17 812.56,303.99 817.78,309.94 823.00,316.02 828.22,322.23 833.44,328.59 838.66,335.08 843.88,341.71 849.09,348.48 854.31,355.39 859.53,362.45 864.75,369.65 869.97,377.00 875.19,384.49 880.41,392.13 885.62,399.92 890.84,407.86 896.06,415.95 901.28,424.19 906.50,432.58 911.72,441.12 916.94,449.80 922.16,458.64 927.38,467.63 932.59,476.77 937.81,486.05 943.03,495.48 948.25,505.06 953.47,514.78 958.69,524.64 963.91,534.64 969.13,544.78 974.34,555.05 979.56,565.46 984.78,575.99 990.00,586.65" stroke="#00FFFF" stroke-width="10" stroke-linecap="square"/><polyline points="155.00,88.50 160.22,88.51 165.44,88.52 170.66,88.55 175.88,88.59 181.09,88.63 186.31,88.69 191.53,88.76 196.75,88.85 201.97,88.94 207.19,89.04 212.41,89.16 217.62,89.28 222.84,89.42 228.06,89.57 233.28,89.73 238.50,89.90 243.72,90.08 248.94,90.28 254.16,90.49 259.38,90.71 264.59,90.94 269.81,91.19 275.03,91.45 280.25,91.72 285.47,92.00 290.69,92.30 295.91,92.61 301.12,92.94 306.34,93.28 311.56,93.64 316.78,94.01 322.00,94.40 327.22,94.80 332.44,95.22 337.66,95.65 342.88,96.10 348.09,96.57 353.31,97.06 358.53,97.56 363.75,98.08 368.97,98.62 374.19,99.18 379.41,99.76 384.62,100.35 389.84,100.97 395.06,101.61 400.28,102.27 405.50,102.96 410.72,103.66 415.94,104.39 421.16,105.14 426.38,105.92 431.59,106.72 436.81,107.54 442.03,108.40 447.25,109.28 452.47,110.18 457.69,111.12 462.91,112.08 468.12,113.08 473.34,114.10 478.56,115.15 483.78,116.24 489.00,117.36 494.22,118.52 499.44,119.70 504.66,120.93 509.88,122.19 515.09,123.49 520.31,124.82 525.53,126.20 530.75,127.61 535.97,129.07 541.19,130.57 546.41,132.11 551.62,133.70 556.84,135.33 562.06,137.01 567.28,138.74 572.50,140.52 577.72,142.34 582.94,144.22 588.16,146.16 593.38,148.15 598.59,150.19 603.81,152.29 609.03,154.45 614.25,156.67 619.47,158.95 624.69,161.30 629.91,163.71 635.12,166.19 640.34,168.73 645.56,171.34 650.78,174.03 656.00,176.79 661.22,179.62 666.44,182.53 671.66,185.51 676.88,188.58 682.09,191.73 687.31,194.96 692.53,198.28 697.75,201.68 702.97,205.17 708.19,208.76 713.41,212.44 718.62,216.21 723.84,220.08 729.06,224.05 734.28,228.11 739.50,232.29 744.72,236.56 749.94,240.95 755.16,245.44 760.38,250.05 765.59,254.76 770.81,259.59 776.03,264.54 781.25,269.61 786.47,274.80 791.69,280.12 796.91,285.55 802.12,291.12 807.34,296.81 812.56,302.64 817.78,308.60 823.00,314.69 828.22,320.92 833.44,327.29 838.66,333.79 843.88,340.44 849.09,347.23 854.31,354.16 859.53,361.24 864.75,368.47 869.97,375.84 875.19,383.36 880.41,391.04 885.62,398.86 890.84,406.83 896.06,414.96 901.28,423.24 906.50,431.67 911.72,440.25 916.94,448.98 922.16,457.87 927.38,466.91 932.59,476.09 937.81,485.43 943.03,494.92 948.25,504.55 953.47,514.33 958.69,524.25 963.91,534.31 969.13,544.51 974.34,554.85 979.56,565.32 984.78,575.92 990.00,586.65" stroke="#00FFFF" stroke-width="10" stroke-linecap="square"/><polyline points="155.00,88.50 160.22,88.51 165.44,88.52 170.66,88.55 175.88,88.59 181.09,88.64 186.31,88.71 191.53,88.78 196.75,88.87 201.97,88.97 207.19,89.08 212.41,89.20 217.62,89.34 222.84,89.48 228.06,89.64 233.28,89.81 238.50,90.00 243.72,90.19 248.94,90.40 254.16,90.62 259.38,90.86 264.59,91.11 269.81,91.37 275.03,91.65 280.25,91.94 285.47,92.24 290.69,92.56 295.91,92.89 301.12,93.24 306.34,93.60 311.56,93.98 316.78,94.38 322.00,94.79 327.22,95.21 332.44,95.66 337.66,96.12 342.88,96.60 348.09,97.09 353.31,97.61 358.53,98.14 363.75,98.69 368.97,99.26 374.19,99.85 379.41,100.46 384.62,101.10 389.84,101.75 395.06,102.42 400.28,103.12 405.50,103.84 410.72,104.58 415.94,105.35 421.16,106.14 426.38,106.95 431.59,107.80 436.81,108.66 442.03,109.56 447.25,110.48 452.47,111.43 457.69,112.41 462.91,113.42 468.12,114.46 473.34,115.53 478.56,116.63 483.78,117.76 489.00,118.93 494.22,120.14 499.44,121.37 504.66,122.65 509.88,123.96 515.09,125.31 520.31,126.69 525.53,128.12 530.75,129.59 535.97,131.10 541.19,132.65 546.41,134.25 551.62,135.89 556.84,137.57 562.06,139.31 567.28,141.09 572.50,142.93 577.72,144.81 582.94,146.74 588.16,148.73 593.38,150.78 598.59,152.88 603.81,155.03 609.03,157.25 614.25,159.52 619.47,161.86 624.69,164.26 629.91,166.72 635.12,169.25 640.34,171.85 645.56,174.52 650.78,177.25 656.00,180.06 661.22,182.94 666.44,185.90 671.66,188.94 676.88,192.05 682.09,195.25 687.31,198.52 692.53,201.88 697.75,205.33 702.97,208.86 708.19,212.48 713.41,216.20 718.62,220.01 723.84,223.91 729.06,227.91 734.28,232.01 739.50,236.20 744.72,240.50 749.94,244.91 755.16,249.42 760.38,254.04 765.59,258.77 770.81,263.61 776.03,268.57 781.25,273.64 786.47,278.82 791.69,284.13 796.91,289.56 802.12,295.11 807.34,300.79 812.56,306.59 817.78,312.53 823.00,318.59 828.22,324.78 833.44,331.11 838.66,337.57 843.88,344.16 849.09,350.90 854.31,357.77 859.53,364.79 864.75,371.94 869.97,379.23 875.19,386.67 880.41,394.26 885.62,401.98 890.84,409.86 896.06,417.87 901.28,426.04 906.50,434.35 911.72,442.81 916.94,451.41 922.16,460.16 927.38,469.05 932.59,478.09 937.81,487.27 943.03,496.60 948.25,506.06 953.47,515.67 958.69,525.41 963.91,535.29 969.13,545.31 974.34,555.45 979.56,565.73 984.78,576.13 990.00,586.65" stroke="#FF00FF" stroke-width="10" stroke-linecap="square" stroke-dasharray="5 31" stroke-dashoffset="-5"/><polyline points="155.00,88.50 160.22,88.50 165.44,88.52 170.66,88.54 175.88,88.58 181.09,88.62 186.31,88.68 191.53,88.74 196.75,88.81 201.97,88.90 207.19,88.99 212.41,89.09 217.62,89.21 222.84,89.33 228.06,89.47 233.28,89.61 238.50,89.77 243.72,89.93 248.94,90.11 254.16,90.30 259.38,90.50 264.59,90.71 269.81,90.94 275.03,91.17 280.25,91.42 285.47,91.68 290.69,91.95 295.91,92.24 301.12,92.54 306.34,92.85 311.56,93.17 316.78,93.51 322.00,93.87 327.22,94.23 332.44,94.62 337.66,95.01 342.88,95.43 348.09,95.86 353.31,96.30 358.53,96.76 363.75,97.24 368.97,97.74 374.19,98.25 379.41,98.78 384.62,99.34 389.84,99.91 395.06,100.50 400.28,101.11 405.50,101.74 410.72,102.39 415.94,103.07 421.16,103.77 426.38,104.49 431.59,105.23 436.81,106.00 442.03,106.79 447.25,107.61 452.47,108.46 457.69,109.33 462.91,110.23 468.12,111.16 473.34,112.12 478.56,113.11 483.78,114.13 489.00,115.18 494.22,116.26 499.44,117.38 504.66,118.53 509.88,119.72 515.09,120.94 520.31,122.20 525.53,123.50 530.75,124.84 535.97,126.22 541.19,127.65 546.41,129.11 551.62,130.62 556.84,132.17 562.06,133.77 567.28,135.42 572.50,137.12 577.72,138.86 582.94,140.66 588.16,142.51 593.38,144.42 598.59,146.38 603.81,148.40 609.03,150.47 614.25,152.61 619.47,154.81 624.69,157.07 629.91,159.40 635.12,161.80 640.34,164.26 645.56,166.79 650.78,169.40 656.00,172.07 661.22,174.83 666.44,177.66 671.66,180.57 676.88,183.56 682.09,186.63 687.31,189.79 692.53,193.04 697.75,196.38 702.97,199.80 708.19,203.32 713.41,206.94 718.62,210.65 723.84,214.46 729.06,218.38 734.28,222.40 739.50,226.52 744.72,230.75 749.94,235.10 755.16,239.55 760.38,244.13 765.59,248.81 770.81,253.62 776.03,258.55 781.25,263.61 786.47,268.79 791.69,274.10 796.91,279.54 802.12,285.11 807.34,290.82 812.56,296.67 817.78,302.66 823.00,308.78 828.22,315.05 833.44,321.47 838.66,328.03 843.88,334.74 849.09,341.61 854.31,348.62 859.53,355.79 864.75,363.12 869.97,370.60 875.19,378.24 880.41,386.04 885.62,394.00 890.84,402.12 896.06,410.40 901.28,418.84 906.50,427.45 911.72,436.22 916.94,445.15 922.16,454.24 927.38,463.50 932.59,472.91 937.81,482.49 943.03,492.22 948.25,502.12 953.47,512.17 958.69,522.37 963.91,532.72 969.13,543.22 974.34,553.87 979.56,564.66 984.78,575.59 990.00,586.65" stroke="#FF00FF" stroke-width="10" stroke-linecap="square" stroke-dasharray="5 31" stroke-dashoffset="-5"/><polyline points="155.00,88.50 160.22,88.50 165.44,88.52 170.66,88.54 175.88,88.57 181.09,88.62 186.31,88.67 191.53,88.73 196.75,88.80 201.97,88.88 207.19,88.97 212.41,89.07 217.62,89.17 222.84,89.29 228.06,89.42 233.28,89.56 238.50,89.71 243.72,89.87 248.94,90.04 254.16,90.22 259.38,90.41 264.59,90.61 269.81,90.83 275.03,91.05 280.25,91.29 285.47,91.54 290.69,91.80 295.91,92.07 301.12,92.36 306.34,92.66 311.56,92.97 316.78,93.29 322.00,93.63 327.22,93.99 332.44,94.35 337.66,94.73 342.88,95.13 348.09,95.54 353.31,95.97 358.53,96.41 363.75,96.88 368.97,97.35 374.19,97.85 379.41,98.36 384.62,98.89 389.84,99.44 395.06,100.01 400.28,100.60 405.50,101.21 410.72,101.84 415.94,102.49 421.16,103.16 426.38,103.86 431.59,104.58 436.81,105.32 442.03,106.09 447.25,106.88 452.47,107.70 457.69,108.54 462.91,109.42 468.12,110.32 473.34,111.25 478.56,112.21 483.78,113.20 489.00,114.22 494.22,115.27 499.44,116.36 504.66,117.48 509.88,118.63 515.09,119.82 520.31,121.05 525.53,122.32 530.75,123.62 535.97,124.97 541.19,126.36 546.41,127.79 551.62,129.26 556.84,130.78 562.06,132.34 567.28,133.96 572.50,135.62 577.72,137.33 582.94,139.09 588.16,140.90 593.38,142.77 598.59,144.69 603.81,146.68 609.03,148.72 614.25,150.82 619.47,152.98 624.69,155.20 629.91,157.50 635.12,159.85 640.34,162.28 645.56,164.78 650.78,167.34 656.00,169.99 661.22,172.71 666.44,175.50 671.66,178.38 676.88,181.34 682.09,184.38 687.31,187.50 692.53,190.72 697.75,194.02 702.97,197.42 708.19,200.91 713.41,204.50 718.62,208.19 723.84,211.97 729.06,215.86 734.28,219.86 739.50,223.96 744.72,228.18 749.94,232.50 755.16,236.94 760.38,241.50 765.59,246.18 770.81,250.97 776.03,255.90 781.25,260.95 786.47,266.12 791.69,271.43 796.91,276.87 802.12,282.45 807.34,288.17 812.56,294.03 817.78,300.02 823.00,306.17 828.22,312.46 833.44,318.90 838.66,325.48 843.88,332.23 849.09,339.12 854.31,346.18 859.53,353.39 864.75,360.76 869.97,368.29 875.19,375.98 880.41,383.84 885.62,391.86 890.84,400.04 896.06,408.39 901.28,416.91 906.50,425.60 911.72,434.45 916.94,443.47 922.16,452.65 927.38,462.01 932.59,471.52 937.81,481.21 943.03,491.05 948.25,501.06 953.47,511.23 958.69,521.55 963.91,532.03 969.13,542.66 974.34,553.45 979.56,564.37 984.78,575.44 990.00,586.65" stroke="#FF00FF" stroke-width="10" stroke-linecap="square" stroke-dasharray="5 31" stroke-dashoffset="-5"/></g><path d="M155.00 602.5V597.3M155.00 71.95V77.2M322.00 602.5V597.3M322.00 71.95V77.2M489.00 602.5V597.3M489.00 71.95V77.2M656.00 602.5V597.3M656.00 71.95V77.2M823.00 602.5V597.3M823.00 71.95V77.2M990.00 602.5V597.3M990.00 71.95V77.2M154.9 586.65H160.1M1014.5 586.65H1009.3M154.9 420.60H160.1M1014.5 420.60H1009.3M154.9 254.55H160.1M1014.5 254.55H1009.3M154.9 88.50H160.1M1014.5 88.50H1009.3" stroke="#707070" stroke-width="3.8" fill="none"/><path d="M196.75 602.5V599.9M196.75 71.95V74.5M238.50 602.5V599.9M238.50 71.95V74.5M280.25 602.5V599.9M280.25 71.95V74.5M363.75 602.5V599.9M363.75 71.95V74.5M405.50 602.5V599.9M405.50 71.95V74.5M447.25 602.5V599.9M447.25 71.95V74.5M530.75 602.5V599.9M530.75 71.95V74.5M572.50 602.5V599.9M572.50 71.95V74.5M614.25 602.5V599.9M614.25 71.95V74.5M697.75 602.5V599.9M697.75 71.95V74.5M739.50 602.5V599.9M739.50 71.95V74.5M781.25 602.5V599.9M781.25 71.95V74.5M864.75 602.5V599.9M864.75 71.95V74.5M906.50 602.5V599.9M906.50 71.95V74.5M948.25 602.5V599.9M948.25 71.95V74.5M154.9 553.44H157.5M1014.5 553.44H1011.9M154.9 520.23H157.5M1014.5 520.23H1011.9M154.9 487.02H157.5M1014.5 487.02H1011.9M154.9 453.81H157.5M1014.5 453.81H1011.9M154.9 387.39H157.5M1014.5 387.39H1011.9M154.9 354.18H157.5M1014.5 354.18H1011.9M154.9 320.97H157.5M1014.5 320.97H1011.9M154.9 287.76H157.5M1014.5 287.76H1011.9M154.9 221.34H157.5M1014.5 221.34H1011.9M154.9 188.13H157.5M1014.5 188.13H1011.9M154.9 154.92H157.5M1014.5 154.92H1011.9M154.9 121.71H157.5M1014.5 121.71H1011.9" stroke="#707070" stroke-width="2.8" fill="none"/><rect x="154.9" y="71.95" width="859.6" height="530.5" fill="none" stroke="#000" stroke-width="2.6"/><text transform="translate(38.5,373.5) rotate(-90)" font-family="Liberation Sans, sans-serif" font-size="43" letter-spacing="0.5" x="-3">F(<tspan font-style="italic">η</tspan>)</text><rect x="184.5" y="170.8" width="356.2" height="219.0" fill="#fff" stroke="#6a6a6a" stroke-width="1.5"/><g fill="none"><line x1="189.5" y1="186.3" x2="535.8" y2="188.8" stroke="#00FFFF" stroke-width="4.4"/><line x1="189.5" y1="189.2" x2="535.8" y2="191.8" stroke="#00FFFF" stroke-width="4.4"/><line x1="189.5" y1="192.0" x2="535.8" y2="194.2" stroke="#00FFFF" stroke-width="4.4"/><line x1="189.5" y1="201.3" x2="535.8" y2="204" stroke="#00FFFF" stroke-width="4.2"/><line x1="189.5" y1="181.8" x2="535.8" y2="183.5" stroke="#FF00FF" stroke-width="3.8" stroke-dasharray="16 20.3" stroke-dashoffset="-0.8"/><line x1="189.5" y1="185.5" x2="535.8" y2="187.5" stroke="#FF00FF" stroke-width="3.5" stroke-dasharray="16 20.3" stroke-dashoffset="-0.8"/><line x1="189.5" y1="188.5" x2="535.8" y2="190.5" stroke="#FF00FF" stroke-width="3.5" stroke-dasharray="16 20.3" stroke-dashoffset="-0.8"/><line x1="189.5" y1="201.3" x2="535.8" y2="204" stroke="#FF00FF" stroke-width="4.2" stroke-dasharray="16 20.3" stroke-dashoffset="-0.8"/><line x1="189.5" y1="187.6" x2="535.8" y2="189.6" stroke="#9A6AF0" stroke-width="1.6" stroke-dasharray="16 20.3" stroke-dashoffset="-0.8"/><line x1="189.5" y1="322.5" x2="535.8" y2="331.5" stroke="#00FFFF" stroke-width="4.4"/><line x1="189.5" y1="324.5" x2="535.8" y2="333.5" stroke="#00FFFF" stroke-width="4.4"/><line x1="189.5" y1="338.3" x2="535.8" y2="348" stroke="#00FFFF" stroke-width="4.2"/><line x1="189.5" y1="368.8" x2="535.8" y2="379.5" stroke="#00FFFF" stroke-width="4.2"/><line x1="189.5" y1="307.5" x2="535.8" y2="317" stroke="#FF00FF" stroke-width="3.6" stroke-dasharray="16 20.3" stroke-dashoffset="-0.8"/><line x1="189.5" y1="312.5" x2="535.8" y2="321.5" stroke="#FF00FF" stroke-width="3.6" stroke-dasharray="16 20.3" stroke-dashoffset="-0.8"/><line x1="189.5" y1="330" x2="535.8" y2="339" stroke="#FF00FF" stroke-width="3.6" stroke-dasharray="16 20.3" stroke-dashoffset="-0.8"/><line x1="189.5" y1="368.8" x2="535.8" y2="379.5" stroke="#FF00FF" stroke-width="4.2" stroke-dasharray="16 20.3" stroke-dashoffset="-0.8"/></g><g stroke="#000" fill="none" stroke-width="3.2"><line x1="539.7" y1="179.5" x2="739" y2="100"/><line x1="540" y1="376.7" x2="753" y2="262.8"/><line x1="734.6" y1="171" x2="734.6" y2="203"/><ellipse cx="734.3" cy="139.2" rx="35.2" ry="32.3"/><ellipse cx="735.8" cy="231.6" rx="36.6" ry="32.6"/><ellipse cx="929" cy="203.8" rx="35.3" ry="29.9"/><ellipse cx="932" cy="474.8" rx="32" ry="32.4"/></g><line x1="248.8" y1="222.9" x2="265.4" y2="199.2" stroke="#000" stroke-width="3.8"/><path d="M280.6,177.5L269.6,208.9L264.2,200.8L254.9,198.5Z" fill="#000"/><line x1="322.9" y1="383.8" x2="375.3" y2="306.3" stroke="#000" stroke-width="3.8"/><path d="M390.1,284.3L379.6,315.9L374.1,307.9L364.7,305.8Z" fill="#000"/><line x1="786.6" y1="187.1" x2="834.1" y2="136.6" stroke="#000" stroke-width="3.8"/><path d="M852.2,117.3L836.8,146.8L832.7,138.1L823.7,134.5Z" fill="#000"/><line x1="726" y1="407.5" x2="847.9" y2="272.6" stroke="#000" stroke-width="3.8"/><path d="M865.7,252.9L850.9,282.7L846.6,274.0L837.6,270.6Z" fill="#000"/><g fill="none" stroke="#000" stroke-width="2.5"><ellipse cx="0" cy="0" rx="9.2" ry="7.9" transform="translate(575.1,433.2) rotate(-18)"/><line x1="579.6" y1="417.2" x2="571.5" y2="449.6" stroke-width="2.8"/></g><rect x="179.5" y="460.5" width="343.5" height="126.5" rx="9" fill="#fff" stroke="#000" stroke-width="2.4"/><line x1="198.4" y1="492.3" x2="244" y2="492.3" stroke="#00FFFF" stroke-width="5" stroke-linecap="round"/><line x1="196.7" y1="554.2" x2="246" y2="554.2" stroke="#FF00FF" stroke-width="4.2" stroke-dasharray="18.8 21.5"/><text id="f1_0" transform="translate(292.00,42.90) scale(1,1.06)" font-family="Liberation Sans, sans-serif" font-size="41.5">Re=80, Ha= 00,</text><text transform="translate(612.00,42.90) scale(1,1.06)" font-family="Liberation Sans, sans-serif" font-size="42" font-style="italic">α</text><text transform="translate(638.30,42.90) scale(1,1.06)" font-family="Liberation Sans, sans-serif" font-size="41">=−5</text><text transform="translate(710.40,23.80) scale(1,1.06)" font-family="Liberation Sans, sans-serif" font-size="29">0</text><text transform="translate(729.50,42.90) scale(1,1.06)" font-family="Liberation Sans, sans-serif" font-size="41">,</text><text id="f1_1" transform="translate(753.40,42.90) scale(1,1.06)" font-family="Liberation Sans, sans-serif" font-size="41">Ec=0. </text><text id="f1_2" transform="translate(85.00,101.80) scale(1,1.03)" font-family="Liberation Sans, sans-serif" font-size="42"> .0</text><text transform="translate(85.00,267.85) scale(1,1.03)" font-family="Liberation Sans, sans-serif" font-size="42">0.5</text><text transform="translate(85.00,433.90) scale(1,1.03)" font-family="Liberation Sans, sans-serif" font-size="42">0.0</text><text transform="translate(61.00,599.95) scale(1,1.03)" font-family="Liberation Sans, sans-serif" font-size="42">−0.5</text><text transform="translate(123.70,650.20) scale(1,1.03)" font-family="Liberation Sans, sans-serif" font-size="42">0.0</text><text transform="translate(291.20,650.20) scale(1,1.03)" font-family="Liberation Sans, sans-serif" font-size="42">0.2</text><text transform="translate(457.70,650.20) scale(1,1.03)" font-family="Liberation Sans, sans-serif" font-size="42">0.4</text><text transform="translate(624.70,650.20) scale(1,1.03)" font-family="Liberation Sans, sans-serif" font-size="42">0.6</text><text transform="translate(791.70,650.20) scale(1,1.03)" font-family="Liberation Sans, sans-serif" font-size="42">0.8</text><text id="f1_3" transform="translate(958.20,650.20) scale(1,1.03)" font-family="Liberation Sans, sans-serif" font-size="42"> .0</text><text x="572.00" y="710.50" font-family="Liberation Sans, sans-serif" font-size="42" font-style="italic">η</text><text x="894.40" y="153.20" font-family="Liberation Sans, sans-serif" font-size="36" letter-spacing="0.3">S=0.5</text><text x="836.60" y="557.60" font-family="Liberation Sans, sans-serif" font-size="36" letter-spacing="0.3">S=−0.5</text><text x="586.50" y="441.80" font-family="Liberation Sans, sans-serif" font-size="35">=</text><text x="608.20" y="441.80" font-family="Liberation Sans, sans-serif" font-size="35" letter-spacing="1">0.00</text><text x="678.30" y="441.80" font-family="Liberation Sans, sans-serif" font-size="35">,</text><text x="691.70" y="441.80" font-family="Liberation Sans, sans-serif" font-size="35">0.07</text><text x="757.80" y="441.80" font-family="Liberation Sans, sans-serif" font-size="35">,</text><text id="f1_4" x="769.40" y="441.80" font-family="Liberation Sans, sans-serif" font-size="35">0. 4</text><text x="838.60" y="441.80" font-family="Liberation Sans, sans-serif" font-size="35">,</text><text x="850.30" y="441.80" font-family="Liberation Sans, sans-serif" font-size="35" letter-spacing="1">0.2</text><text transform="translate(264.40,499.90) scale(1,1.02)" font-family="Liberation Sans, sans-serif" font-size="36.5">Copper</text><text transform="translate(406.50,499.90) scale(1,1.02)" font-family="Liberation Sans, sans-serif" font-size="36.5" letter-spacing="0.6">Water</text><text transform="translate(264.40,561.90) scale(1,1.02)" font-family="Liberation Sans, sans-serif" font-size="36.5">Silver</text><text transform="translate(377.50,561.90) scale(1,1.02)" font-family="Liberation Sans, sans-serif" font-size="36.5" letter-spacing="0.6">Water</text><rect x="386" y="490.1" width="17.1" height="2.6" fill="#000"/><rect x="357.2" y="552.5" width="17.1" height="2.6" fill="#000"/>
<g fill="#000"><path d="M763 0H583V1098C540 1058 483 1019 413 980C343 941 280 911 225 891V1058C326 1103 414 1158 489 1222C564 1286 618 1349 649 1409H763Z" transform="translate(515.72,42.90) scale(0.02026,-0.02148)"/><path d="M763 0H583V1098C540 1058 483 1019 413 980C343 941 280 911 225 891V1058C326 1103 414 1158 489 1222C564 1286 618 1349 649 1409H763Z" transform="translate(859.35,42.90) scale(0.02002,-0.02122)"/><path d="M763 0H583V1098C540 1058 483 1019 413 980C343 941 280 911 225 891V1058C326 1103 414 1158 489 1222C564 1286 618 1349 649 1409H763Z" transform="translate(85.00,101.80) scale(0.02051,-0.02112)"/><path d="M763 0H583V1098C540 1058 483 1019 413 980C343 941 280 911 225 891V1058C326 1103 414 1158 489 1222C564 1286 618 1349 649 1409H763Z" transform="translate(958.20,650.20) scale(0.02051,-0.02112)"/><path d="M763 0H583V1098C540 1058 483 1019 413 980C343 941 280 911 225 891V1058C326 1103 414 1158 489 1222C564 1286 618 1349 649 1409H763Z" transform="translate(798.59,441.80) scale(0.01709,-0.01709)"/></g>
</svg></body></html>
